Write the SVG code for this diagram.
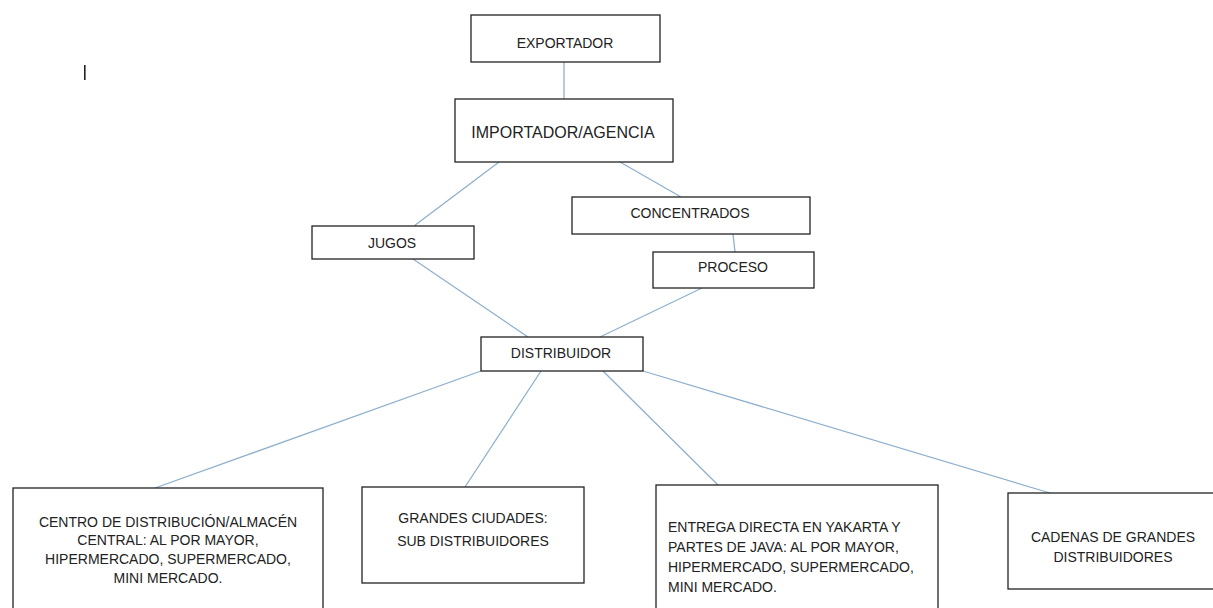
<svg xmlns="http://www.w3.org/2000/svg" width="1213" height="608" viewBox="0 0 1213 608">
<style>
.box{fill:#fff;stroke:#222;stroke-width:1.3}
.t{font-family:"Liberation Sans",Arial,sans-serif;font-size:14px;fill:#222}
.c{text-anchor:middle}
.con line{stroke:#8fb0cc;stroke-width:1.3}
</style>
<rect width="1213" height="608" fill="#fff"/>
<rect x="84" y="65" width="1.6" height="15" fill="#222"/>
<g class="con" id="connectors">
<line x1="564" y1="62" x2="564" y2="99"/>
<line x1="499" y1="162" x2="414" y2="226"/>
<line x1="620" y1="162" x2="681" y2="197"/>
<line x1="733" y1="234" x2="735" y2="252"/>
<line x1="413" y1="259" x2="528" y2="337"/>
<line x1="702" y1="288" x2="600" y2="337"/>
<line x1="481" y1="371" x2="155" y2="488"/>
<line x1="541" y1="371" x2="465" y2="487"/>
<line x1="603" y1="371" x2="718" y2="485"/>
<line x1="643" y1="371" x2="1050" y2="493"/>
</g>
<g id="exportador"><rect class="box" x="471" y="15" width="189" height="47"/><text class="t c" x="565" y="48">EXPORTADOR</text></g>
<g id="importador"><rect class="box" x="455" y="99" width="218" height="63"/><text class="t c" x="563" y="138" style="font-size:16px">IMPORTADOR/AGENCIA</text></g>
<g id="jugos"><rect class="box" x="312" y="226" width="162" height="33"/><text class="t c" x="392" y="248">JUGOS</text></g>
<g id="concentrados"><rect class="box" x="572" y="197" width="238" height="37"/><text class="t c" x="690" y="218">CONCENTRADOS</text></g>
<g id="proceso"><rect class="box" x="653" y="252" width="161" height="36"/><text class="t c" x="733" y="272">PROCESO</text></g>
<g id="distribuidor"><rect class="box" x="481" y="337" width="162" height="34"/><text class="t c" x="561" y="358">DISTRIBUIDOR</text></g>
<g id="centro"><rect class="box" x="13" y="488" width="310" height="130"/>
<text class="t c" x="168" y="527">CENTRO DE DISTRIBUCIÓN/ALMACÉN</text>
<text class="t c" x="168" y="545">CENTRAL: AL POR MAYOR,</text>
<text class="t c" x="168" y="564">HIPERMERCADO, SUPERMERCADO,</text>
<text class="t c" x="168" y="583">MINI MERCADO.</text></g>
<g id="grandes"><rect class="box" x="362" y="487" width="222" height="96"/>
<text class="t c" x="473" y="523">GRANDES CIUDADES:</text>
<text class="t c" x="473" y="546">SUB DISTRIBUIDORES</text></g>
<g id="entrega"><rect class="box" x="656" y="485" width="282" height="133"/>
<text class="t" x="668" y="532">ENTREGA DIRECTA EN YAKARTA Y</text>
<text class="t" x="668" y="552">PARTES DE JAVA: AL POR MAYOR,</text>
<text class="t" x="668" y="572">HIPERMERCADO, SUPERMERCADO,</text>
<text class="t" x="668" y="592">MINI MERCADO.</text></g>
<g id="cadenas"><rect class="box" x="1008" y="493" width="215" height="96"/>
<text class="t c" x="1113" y="542">CADENAS DE GRANDES</text>
<text class="t c" x="1113" y="562">DISTRIBUIDORES</text></g>
</svg>
